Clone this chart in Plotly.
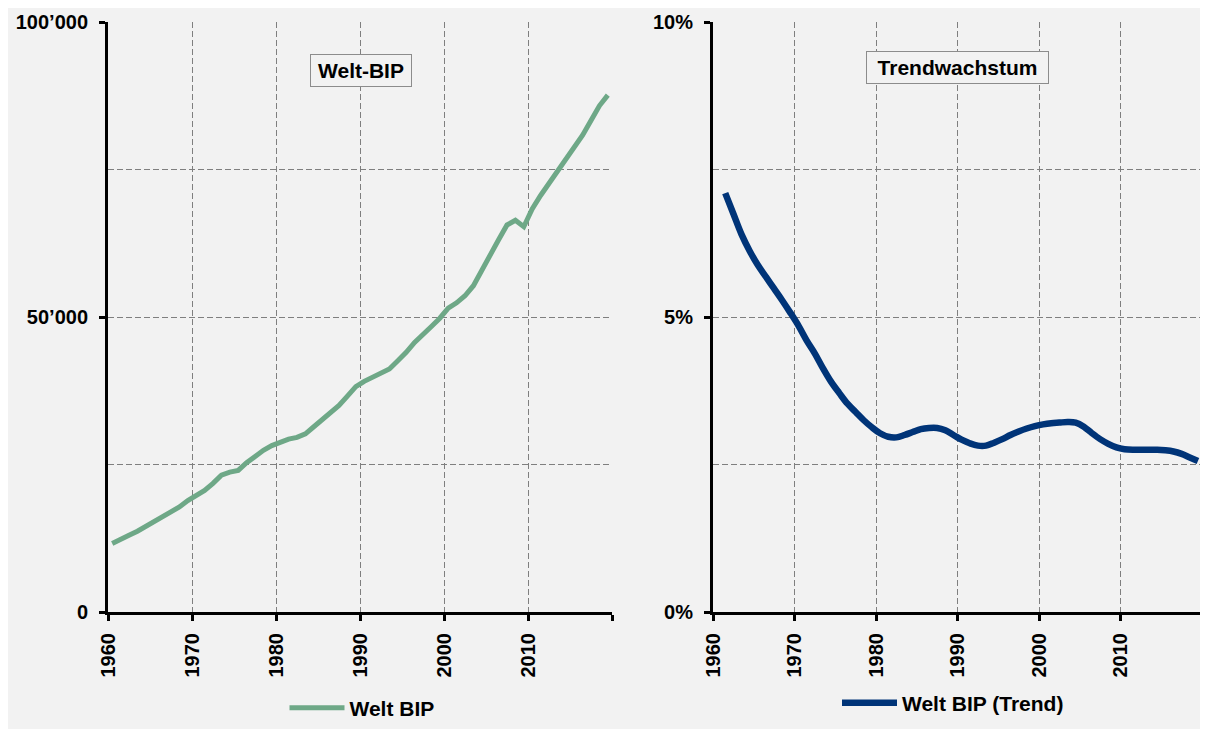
"""Welt-BIP und Trendwachstum, two panels side by side."""

import plotly.graph_objects as go
from plotly.subplots import make_subplots

YEARS = list(range(1960, 2020))
# Welt BIP, in Mrd. USD
WELT_BIP = [
    11600, 12200, 13000, 13700, 14500, 15300, 16100, 16900, 17800, 18900,
    19700, 20600, 21800, 23200, 23700, 24000, 25300, 26400, 27400, 28200,
    28800, 29300, 29600, 30200, 31400, 32600, 33800, 35000, 36600, 38200,
    39100, 39800, 40500, 41200, 42600, 44000, 45700, 47200, 48400, 49800,
    51500, 52400, 53600, 55300, 58000, 60600, 63100, 65600, 66400, 65300,
    68300, 70600, 72600, 74600, 76600, 78900, 80800, 83300, 85800, 87600,
]

TREND_YEARS = list(range(1961, 2020))
# Trendwachstum in Prozent
TREND = [
    7.10, 6.75, 6.40, 6.12, 5.88, 5.68, 5.48, 5.28, 5.07,
    4.85, 4.60, 4.38, 4.13, 3.90, 3.71, 3.53, 3.39, 3.25, 3.13,
    3.03, 2.97, 2.96, 3.00, 3.05, 3.10, 3.12, 3.12, 3.08, 3.00,
    2.92, 2.86, 2.82, 2.82, 2.87, 2.93, 3.00, 3.06, 3.11, 3.15,
    3.18, 3.20, 3.21, 3.22, 3.21, 3.14, 3.03, 2.93, 2.85, 2.79,
    2.76, 2.75, 2.75, 2.75, 2.75, 2.74, 2.72, 2.68, 2.62, 2.56,
]

DECADES = [1960, 1970, 1980, 1990, 2000, 2010, 2020]
DECADE_LABELS = ["1960", "1970", "1980", "1990", "2000", "2010", ""]
BIP_TICKS = [0, 50000, 100000]
BIP_TICK_LABELS = ["0", "50\u2019000", "100\u2019000"]
BIP_MINOR = [25000, 75000]
TREND_TICKS = [0, 5, 10]
TREND_TICK_LABELS = ["0%", "5%", "10%"]
TREND_MINOR = [2.5, 7.5]

COLORS = {
    "background": "#F2F2F2",
    "grid": "#7F7F7F",
    "axis": "#000000",
    "bip": "#6EA887",
    "trend": "#003478",
    "box": "#8C8C8C",
}
FONT = "Liberation Sans, Arial, sans-serif"
W, H = 1208, 729
OFF = 8  # page body margin the figure sits behind


def px_x(x):
    return (x - OFF) / W


def px_y(y):
    return 1 - (y - OFF) / H


fig = make_subplots(rows=1, cols=2)

fig.add_trace(
    go.Scatter(
        x=YEARS, y=WELT_BIP, mode="lines", name="Welt BIP",
        line={"color": COLORS["bip"], "width": 5}, legend="legend",
    ),
    row=1, col=1,
)
fig.add_trace(
    go.Scatter(
        x=TREND_YEARS, y=TREND, mode="lines", name="Welt BIP (Trend)",
        line={"color": COLORS["trend"], "width": 6.5, "shape": "spline", "smoothing": 1.0},
        legend="legend2",
    ),
    row=1, col=2,
)

grid_dash = "6px,3px"
tick_font = {"family": FONT, "size": 20, "color": "#000000", "weight": "bold"}

# Excel-style category axis: labels sit on the boundaries between years
xticks = [d - 0.5 for d in DECADES]
common_x = dict(
    range=[1959.5, 2019.5],
    tickmode="array",
    tickvals=xticks,
    ticktext=DECADE_LABELS,
    tickangle=-90,
    ticks="outside",
    ticklen=6,
    tickwidth=3,
    tickcolor=COLORS["axis"],
    showline=True,
    linecolor=COLORS["axis"],
    linewidth=3,
    showgrid=True,
    gridcolor=COLORS["grid"],
    griddash=grid_dash,
    gridwidth=1,
    zeroline=False,
    automargin=False,
    tickfont=tick_font,
    ticklabelstandoff=4,
)
common_y = dict(
    tickmode="array",
    ticks="outside",
    ticklen=6,
    tickwidth=3,
    tickcolor=COLORS["axis"],
    showline=True,
    linecolor=COLORS["axis"],
    linewidth=3,
    showgrid=True,
    gridcolor=COLORS["grid"],
    griddash=grid_dash,
    gridwidth=1,
    zeroline=False,
    automargin=False,
    tickfont=tick_font,
    ticklabelstandoff=7,
)

y_domain = [px_y(612), px_y(22)]
fig.update_xaxes(domain=[px_x(108), px_x(612)], **common_x, row=1, col=1)
fig.update_xaxes(domain=[px_x(713), px_x(1202)], **common_x, row=1, col=2)
fig.update_yaxes(
    domain=y_domain, range=[0, 100000],
    tickvals=BIP_TICKS, ticktext=BIP_TICK_LABELS,
    minor={"tickvals": BIP_MINOR, "showgrid": True, "gridcolor": COLORS["grid"],
           "griddash": grid_dash, "gridwidth": 1, "ticks": ""},
    **common_y, row=1, col=1,
)
fig.update_yaxes(
    domain=y_domain, range=[0, 10],
    tickvals=TREND_TICKS, ticktext=TREND_TICK_LABELS,
    minor={"tickvals": TREND_MINOR, "showgrid": True, "gridcolor": COLORS["grid"],
           "griddash": grid_dash, "gridwidth": 1, "ticks": ""},
    **common_y, row=1, col=2,
)

for text, xc, yc, w in [("Welt-BIP", 361, 71, 92), ("Trendwachstum", 957, 68, 173)]:
    fig.add_annotation(
        text=f"<b>{text}</b>",
        xref="paper", yref="paper",
        x=px_x(xc), y=px_y(yc),
        xanchor="center", yanchor="middle",
        showarrow=False,
        width=w,
        font={"family": FONT, "size": 21, "color": "#000000"},
        bgcolor=COLORS["background"],
        bordercolor=COLORS["box"],
        borderwidth=1,
        borderpad=4,
    )

legend_style = dict(
    orientation="h",
    yanchor="middle",
    xanchor="center",
    bgcolor="rgba(0,0,0,0)",
    font={"family": FONT, "size": 21, "color": "#000000", "weight": "bold"},
    itemwidth=55,
)

fig.update_layout(
    width=W,
    height=H,
    margin={"l": 0, "r": 0, "t": 0, "b": 0, "autoexpand": False},
    paper_bgcolor=COLORS["background"],
    plot_bgcolor=COLORS["background"],
    showlegend=True,
    legend={**legend_style, "x": px_x(362), "y": px_y(708)},
    legend2={**legend_style, "x": px_x(953), "y": px_y(703)},
)

fig.write_html("out.html")
